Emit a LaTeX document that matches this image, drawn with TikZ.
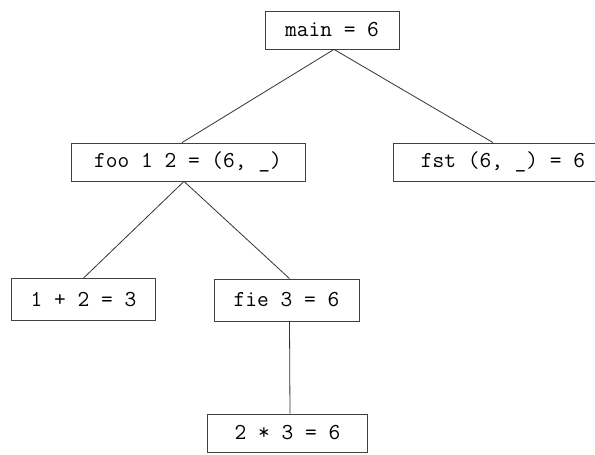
\documentclass[tikz,border=0pt]{standalone}
\usepackage{tikz}

\tikzset{
  evalbox/.style={draw=black!75, line width=0.8pt, rectangle, inner sep=0pt,
    font=\ttfamily\fontsize{22.8}{26}\selectfont},
  edge/.style={draw=black!80, line width=0.8pt}
}

\begin{document}
\begin{tikzpicture}[x=1pt,y=1pt]
\clip (0,0) rectangle (595,455);
\node[evalbox, minimum width=134, minimum height=38] (main) at (332,425) {main = 6};
\node[evalbox, minimum width=234, minimum height=38] (foo) at (188,293) {foo 1 2 = (6, \_)};
\node[evalbox, minimum width=220, minimum height=38] (fst) at (503,293) {fst (6, \_) = 6};
\node[evalbox, minimum width=144, minimum height=42] (add) at (83.5,155.5) {1 + 2 = 3};
\node[evalbox, minimum width=145, minimum height=42] (fie) at (286.5,155) {fie 3 = 6};
\node[evalbox, minimum width=160, minimum height=38] (mul) at (287.5,22) {2 * 3 = 6};
% call tree
\draw[edge] ([xshift=2pt]main.south) -- ([xshift=-6pt]foo.north);
\draw[edge] ([xshift=2pt]main.south) -- ([xshift=-10pt]fst.north);
\draw[edge] ([xshift=-4pt]foo.south) -- (add.north);
\draw[edge] ([xshift=-4pt]foo.south) -- ([xshift=3pt]fie.north);
\draw[edge] ([xshift=3pt]fie.south) -- ([xshift=2.5pt]mul.north);
\end{tikzpicture}
\end{document}
